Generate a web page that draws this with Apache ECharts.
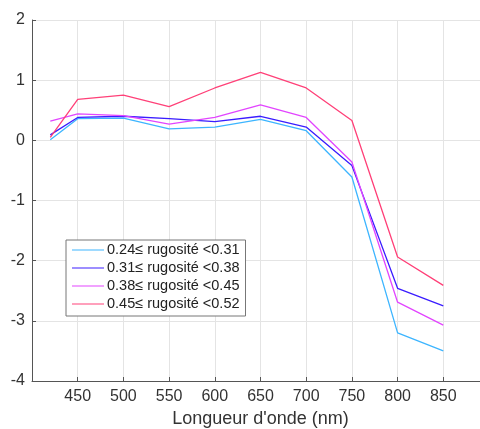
<!DOCTYPE html>
<html>
<head>
<meta charset="utf-8">
<script src="https://cdn.jsdelivr.net/npm/echarts@6/dist/echarts.min.js"></script>
<style>
html,body{margin:0;padding:0;background:#fff;overflow:hidden;}
#chart{width:480px;height:429px;}
</style>
</head>
<body>
<div id="chart"></div>
<script>
var wavelengths = [420, 450, 500, 550, 600, 650, 700, 750, 800, 850];
var seriesNames = ['0.24\u2264 rugosité <0.31', '0.31\u2264 rugosité <0.38', '0.38\u2264 rugosité <0.45', '0.45\u2264 rugosité <0.52'];
var rug024 = [0.01, 0.36, 0.37, 0.19, 0.22, 0.35, 0.16, -0.61, -3.20, -3.50];
var rug031 = [0.09, 0.38, 0.40, 0.36, 0.31, 0.40, 0.22, -0.42, -2.46, -2.75];
var rug038 = [0.32, 0.44, 0.41, 0.27, 0.38, 0.59, 0.38, -0.36, -2.69, -3.07];
var rug045 = [0.05, 0.68, 0.75, 0.56, 0.87, 1.13, 0.87, 0.33, -1.94, -2.41];
var colors = ['#3db5ff', '#3a1cff', '#e245ff', '#ff4078'];
var xTicks = [450, 500, 550, 600, 650, 700, 750, 800, 850];
var yTicks = [-4, -3, -2, -1, 0, 1, 2];

var allSeries = [rug024, rug031, rug038, rug045];
var chart = echarts.init(document.getElementById('chart'), null, {renderer: 'canvas'});
var font = "'Liberation Sans', Arial, sans-serif";
chart.setOption({
  animation: false,
  color: colors,
  grid: {left: 32, top: 20, width: 457, height: 361, containLabel: false, outerBoundsMode: 'none'},
  legend: {
    orient: 'vertical',
    left: 66, top: 240,
    padding: [2, 6, 4, 6],
    itemGap: 2,
    itemWidth: 32, itemHeight: 16,
    backgroundColor: '#fff',
    borderColor: '#777', borderWidth: 1,
    textStyle: {fontFamily: font, fontSize: 14.5, color: '#222', lineHeight: 16, padding: [0, 0, 0, -2]},
    icon: 'path://M0,7.5 L32,7.5 L32,8.5 L0,8.5 Z',
    data: seriesNames
  },
  xAxis: {
    type: 'value', min: 400, max: 900, interval: 50,
    name: "Longueur d'onde (nm)", nameLocation: 'middle', nameGap: 28,
    nameTextStyle: {fontFamily: font, fontSize: 18, color: '#333'},
    axisLine: {show: true, onZero: false, lineStyle: {color: '#555', width: 1}},
    axisTick: {show: true, inside: true, length: 4, lineStyle: {color: '#555'}},
    axisLabel: {fontFamily: font, fontSize: 16, color: '#333', margin: 8,
      formatter: function(v){ return xTicks.indexOf(v) >= 0 ? String(v) : ''; }},
    splitLine: {show: true, lineStyle: {color: '#e4e4e4', width: 1}}
  },
  yAxis: {
    type: 'value', min: -4, max: 2, interval: 1,
    axisLine: {show: true, onZero: false, lineStyle: {color: '#555', width: 1}},
    axisTick: {show: true, inside: true, length: 4, lineStyle: {color: '#555'}},
    axisLabel: {fontFamily: font, fontSize: 16, color: '#333', margin: 7,
      formatter: function(v){ return yTicks.indexOf(v) >= 0 ? String(v) : ''; }},
    splitLine: {show: true, lineStyle: {color: '#e4e4e4', width: 1}}
  },
  series: allSeries.map(function(arr, i){
    return {
      name: seriesNames[i],
      type: 'line',
      data: wavelengths.map(function(w, j){ return [w, arr[j]]; }),
      showSymbol: false,
      symbol: 'none',
      lineStyle: {width: 1.3, color: colors[i]},
      z: 2 + i
    };
  })
});
</script>
</body>
</html>
